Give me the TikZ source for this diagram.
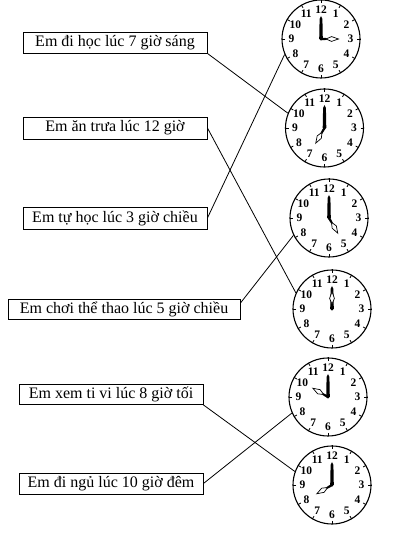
\documentclass[tikz,border=0pt]{standalone}
\usepackage{fontspec}
\setmainfont{Liberation Serif}
\usetikzlibrary{calc}
\tikzset{
  lbl/.style={draw,line width=0.9pt,minimum width=184pt,minimum height=21pt,inner sep=0pt,font=\fontsize{16}{18}\selectfont},
  face/.style={circle,draw,line width=1.1pt,minimum size=78pt,inner sep=0pt},
  link/.style={line width=0.8pt},
  num/.style={font=\fontsize{11.5}{11.5}\selectfont\bfseries,inner sep=0pt},
  pics/hands/.style={code={
    \foreach \h in {1,...,12} {
      \draw[line width=0.8pt] ({90-30*\h}:36) -- ({90-30*\h}:39.5);
      \node[num] at ({90-30*\h}:29.5) {\h};
    }
    \fill (-1.8,0) -- (-1.4,20) -- (0,23) -- (1.4,20) -- (1.8,0) -- cycle;
    \begin{scope}[rotate={-30*#1}]
      \fill (-1.2,0) -- (-0.9,7) -- (0.9,7) -- (1.2,0) -- cycle;
      \draw[fill=white,line width=0.7pt] (0,5) -- (-2.4,10.5) -- (0,17.5) -- (2.4,10.5) -- cycle;
    \end{scope}
    \fill (0,0) circle (1.7pt);
  }}
}
\begin{document}
\begin{tikzpicture}[x=1pt,y=1pt]
\useasboundingbox (0,0) rectangle (406,534);
% clocks
\node[face] (c1) at (321,495) {};
\node[face] (c2) at (324.5,406) {};
\node[face] (c3) at (329,316) {};
\node[face] (c4) at (332,225) {};
\node[face] (c5) at (328,137) {};
\node[face] (c6) at (332,49) {};
\pic at (c1) {hands=3};
\pic at (c2) {hands=7};
\pic at (c3) {hands=5};
\pic at (c4) {hands=12};
\pic at (c5) {hands=10};
\pic at (c6) {hands=8};
% labels
\node[lbl] (b1) at (115,491.5) {Em đi học lúc 7 giờ sáng};
\node[lbl,minimum height=22pt] (b2) at (115,406) {Em ăn trưa lúc 12 giờ};
\node[lbl,minimum height=22pt] (b3) at (115,316) {Em tự học lúc 3 giờ chiều};
\node[lbl,minimum width=232pt,minimum height=20pt] (b4) at (124,224.5) {Em chơi thể thao lúc 5 giờ chiều};
\node[lbl,minimum width=184pt,minimum height=20pt] (b5) at (111,139.5) {Em xem ti vi lúc 8 giờ tối};
\node[lbl] (b6) at (111,50.5) {Em đi ngủ lúc 10 giờ đêm};
% connectors
\draw[link] (b1.south east) -- (c2.158);
\draw[link] (b2.east) -- (c4.156);
\draw[link] (b3.east) -- (c1.203);
\draw[link] ($(b4.north east)+(0,-4)$) -- (c3.206);
\draw[link] (b5.south east) -- (c6.160);
\draw[link] (b6.east) -- (c5.204);
\end{tikzpicture}
\end{document}
